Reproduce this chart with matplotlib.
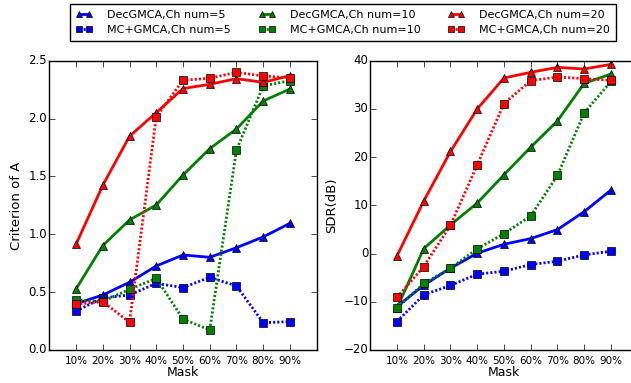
import numpy as np
import matplotlib
matplotlib.use("Agg")
import matplotlib.pyplot as plt

plt.style.use("classic")

masks = ["10%", "20%", "30%", "40%", "50%", "60%", "70%", "80%", "90%"]

# Criterion of A
crit_dec_5 = [0.40, 0.475, 0.585, 0.726, 0.821, 0.801, 0.884, 0.977, 1.095]
crit_mc_5 = [0.337, 0.45, 0.475, 0.576, 0.539, 0.628, 0.553, 0.236, 0.245]
crit_dec_10 = [0.527, 0.902, 1.124, 1.253, 1.512, 1.740, 1.910, 2.152, 2.256]
crit_mc_10 = [0.432, 0.42, 0.524, 0.619, 0.268, 0.173, 1.729, 2.282, 2.328]
crit_dec_20 = [0.913, 1.423, 1.847, 2.051, 2.259, 2.296, 2.345, 2.313, 2.371]
crit_mc_20 = [0.397, 0.418, 0.239, 2.016, 2.331, 2.348, 2.400, 2.368, 2.351]

# SDR (dB)
sdr_dec_5 = [-11.0, -6.55, -3.03, 0.07, 1.93, 3.1, 4.97, 8.69, 13.17]
sdr_mc_5 = [-14.1, -8.55, -6.62, -4.28, -3.66, -2.28, -1.59, -0.28, 0.48]
sdr_dec_10 = [-11.3, 1.03, 5.93, 10.48, 16.34, 22.07, 27.52, 35.31, 37.24]
sdr_mc_10 = [-11.24, -6.21, -3.03, 0.97, 4.14, 7.79, 16.2, 29.17, 35.7]
sdr_dec_20 = [-0.48, 10.9, 21.17, 30.0, 36.41, 37.59, 38.62, 38.28, 39.24]
sdr_mc_20 = [-9.1, -2.69, 5.86, 18.41, 31.1, 35.86, 36.62, 36.28, 35.93]

colors = {5: "b", 10: "g", 20: "r"}
x = np.arange(1, len(masks) + 1)

fig = plt.figure(figsize=(6.31, 3.83), dpi=100, facecolor="white")
ax1 = fig.add_axes([0.0781, 0.0862, 0.4238, 0.7553])
ax2 = fig.add_axes([0.5868, 0.0862, 0.4238, 0.7553])

def draw(ax, dec, mc):
    handles = []
    for n, d, m in zip([5, 10, 20], dec, mc):
        h1, = ax.plot(x, d, color=colors[n], lw=2, ls="-", marker="^", ms=6,
                      mec="k", mew=0.5, label="DecGMCA,Ch num=%d" % n)
        h2, = ax.plot(x, m, color=colors[n], lw=2, ls=(0, (1.5, 1.5)),
                      marker="s", ms=6, mec="k", mew=0.5,
                      label="MC+GMCA,Ch num=%d" % n)
        handles.append((h1, h2))
    ax.set_xlim(0, 10)
    ax.set_xticks(x)
    ax.set_xticklabels(masks)
    ax.set_xlabel("Mask", fontsize=9, labelpad=0)
    ax.tick_params(axis="x", labelsize=7.5, pad=4)
    ax.tick_params(axis="y", labelsize=8.5, pad=1.5)
    return handles

handles = draw(ax1, [crit_dec_5, crit_dec_10, crit_dec_20],
               [crit_mc_5, crit_mc_10, crit_mc_20])
ax1.set_ylim(0, 2.5)
ax1.set_yticks(np.arange(0, 2.51, 0.5))
ax1.set_ylabel("Criterion of A", fontsize=9.5, labelpad=4)

draw(ax2, [sdr_dec_5, sdr_dec_10, sdr_dec_20],
     [sdr_mc_5, sdr_mc_10, sdr_mc_20])
ax2.set_ylim(-20, 40)
ax2.set_yticks(np.arange(-20, 41, 10))
ax2.set_ylabel("SDR(dB)", fontsize=9.5, labelpad=4)

order = [handles[0][0], handles[0][1], handles[1][0], handles[1][1],
         handles[2][0], handles[2][1]]
fig.legend(order, [h.get_label() for h in order], loc="upper center",
           bbox_to_anchor=(0.5436, 0.9896), ncol=3, fontsize=8,
           numpoints=2, handlelength=1.5, columnspacing=2.5,
           borderpad=0.55, labelspacing=0.45, handletextpad=1.3,
           borderaxespad=0, markerscale=0.8, fancybox=False)

fig.savefig("out.png", dpi=100, facecolor="white")
